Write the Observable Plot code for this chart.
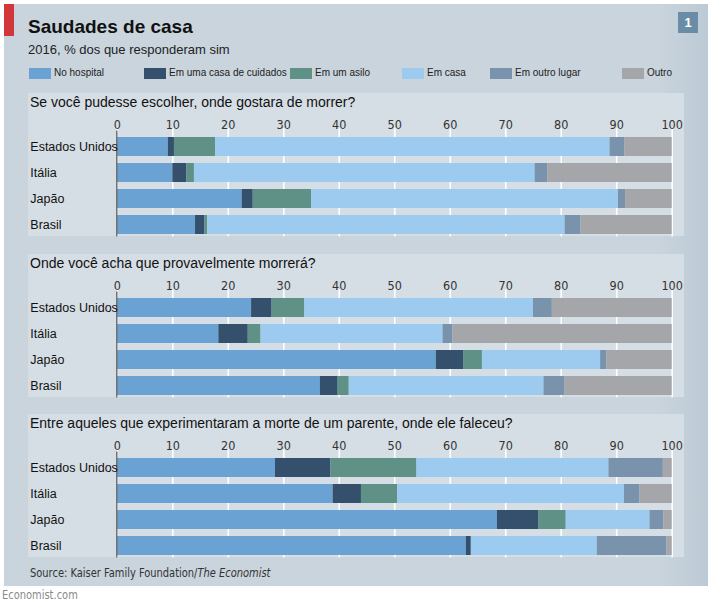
<!DOCTYPE html>
<html>
<head>
<meta charset="utf-8">
<script src="https://cdn.jsdelivr.net/npm/d3@7"></script>
<script src="https://cdn.jsdelivr.net/npm/@observablehq/plot@0.6"></script>
<style>
  html, body { margin: 0; padding: 0; background: #ffffff; }
  body { width: 713px; height: 608px; position: relative; overflow: hidden; font-family: "Liberation Sans", Arial, sans-serif; }
  .abs { position: absolute; }
  #card { left: 4px; top: 4px; width: 704px; height: 582px; background: linear-gradient(to right, #c9d4dd 0%, #c9d4dd 93%, #bccad5 100%); }
  #red { left: 4px; top: 4px; width: 10px; height: 32px; background: #d2383b; }
  #title { left: 28px; top: 16px; font-size: 19px; font-weight: bold; color: #111; white-space: nowrap; }
  #subtitle { left: 28px; top: 42px; font-size: 13px; color: #222; white-space: nowrap; }
  #badge { left: 678px; top: 12px; width: 20px; height: 21px; background: #6a8ca6; color: #fff; font-weight: bold; font-size: 13px; text-align: center; line-height: 21px; }
  .sw { width: 22px; height: 11px; }
  .lg { font-size: 10px; color: #222; white-space: nowrap; }
  .panel { left: 28px; width: 656px; height: 143px; background: #d6dee5; }
  .ptitle { position: absolute; left: 2px; top: 1px; font-size: 14px; color: #111; white-space: nowrap; }
  .pchart { position: absolute; left: 0; top: 17px; }
  .narrow { font-family: "DejaVu Sans Condensed", "DejaVu Sans", sans-serif; transform: scaleX(0.88); transform-origin: left center; }
  #source { left: 30px; top: 565px; font-size: 12.5px; color: #333; white-space: nowrap; }
  #econ { left: 2px; top: 587px; font-size: 12.5px; color: #8a8a8a; white-space: nowrap; }
</style>
</head>
<body>
<script>
// ---------- data ----------
const countries = ["Estados Unidos", "Itália", "Japão", "Brasil"];
const places = ["No hospital", "Em uma casa de cuidados", "Em um asilo", "Em casa", "Em outro lugar", "Outro"];
const placeColors = ["#6aa2d3", "#34506c", "#5f9186", "#9dcbef", "#7893ab", "#a5a6a9"];
const questions = [
  "Se você pudesse escolher, onde gostara de morrer?",
  "Onde você acha que provavelmente morrerá?",
  "Entre aqueles que experimentaram a morte de um parente, onde ele faleceu?"
];
const tickValues = [0, 10, 20, 30, 40, 50, 60, 70, 80, 90, 100];

// values per country, in the order of `places`
const preferred = [
  [9.2, 1.1, 7.4, 71.1, 2.7, 8.5],
  [10.0, 2.5, 1.4, 61.4, 2.3, 22.4],
  [22.5, 2.0, 10.5, 55.3, 1.3, 8.4],
  [14.1, 1.7, 0.5, 64.4, 2.8, 16.5]
];
const expected = [
  [24.2, 3.7, 5.9, 41.2, 3.4, 21.6],
  [18.3, 5.3, 2.3, 32.8, 1.8, 39.5],
  [57.5, 4.9, 3.4, 21.3, 1.1, 11.8],
  [36.6, 3.2, 2.0, 35.1, 3.8, 19.3]
];
const relatives = [
  [28.5, 10.0, 15.5, 34.6, 9.8, 1.6],
  [38.9, 5.1, 6.5, 40.9, 2.8, 5.8],
  [68.5, 7.5, 4.9, 15.1, 2.5, 1.5],
  [62.9, 0.9, 0.0, 22.7, 12.5, 1.0]
];
const panelValues = [preferred, expected, relatives];
const panelTops = [93, 254, 414];

// ---------- static layout ----------
function el(cls, id, style, text) {
  const d = document.createElement("div");
  d.className = cls;
  if (id) d.id = id;
  if (style) Object.assign(d.style, style);
  if (text != null) d.textContent = text;
  document.body.appendChild(d);
  return d;
}
el("abs", "card");
el("abs", "red");
el("abs", "title", null, "Saudades de casa");
el("abs", "subtitle", null, "2016, % dos que responderam sim");
el("abs", "badge", null, "1");

// legend
const legendX = [29, 144, 290, 402, 490, 622];
places.forEach((p, i) => {
  el("abs sw", null, {left: legendX[i] + "px", top: "68px", background: placeColors[i]});
  el("abs lg", null, {left: (legendX[i] + 25) + "px", top: "67px"}, p);
});

// panels
panelValues.forEach((vals, k) => {
  const panel = el("abs panel", null, {top: panelTops[k] + "px"});
  const t = document.createElement("div");
  t.className = "ptitle";
  t.textContent = questions[k];
  panel.appendChild(t);

  const data = [];
  countries.forEach((c, i) => places.forEach((p, j) => data.push({country: c, place: p, value: vals[i][j]})));

  const chart = Plot.plot({
    width: 656,
    height: 127,
    marginLeft: 88.8,
    marginRight: 12.3,
    marginTop: 24.4,
    marginBottom: 0.6,
    style: {background: "transparent", fontFamily: "'Liberation Sans', Arial, sans-serif", fontSize: "12.5px", color: "#111"},
    x: {domain: [0, 100], axis: null},
    y: {domain: countries, paddingInner: 0.28, paddingOuter: 0.1, axis: null},
    color: {domain: places, range: placeColors},
    marks: [
      Plot.ruleX(tickValues, {stroke: "#ffffff", strokeWidth: 1.6, insetTop: -6}),
      Plot.barX(data, {x: "value", y: "country", fill: "place"}),
      Plot.ruleX([0], {stroke: "#6e6e6e", strokeWidth: 1.5, dx: -0.5, insetTop: -4}),
      Plot.axisX({anchor: "top", ticks: tickValues, tickSize: 0, tickPadding: 6, label: null,
                  fontFamily: "'DejaVu Sans Condensed', 'Liberation Sans Narrow', sans-serif",
                  fontSize: 12.5, fill: "#333"}),
      Plot.axisY({anchor: "left", tickSize: 0, tickPadding: 3, textAnchor: "start", dx: -84, label: null,
                  fontSize: 12.5, fill: "#111"})
    ]
  });
  chart.classList.add("pchart");
  panel.appendChild(chart);
});

const src = el("abs narrow", "source");
src.innerHTML = "Source: Kaiser Family Foundation/<i>The Economist</i>";
el("abs narrow", "econ", null, "Economist.com");
</script>
</body>
</html>
